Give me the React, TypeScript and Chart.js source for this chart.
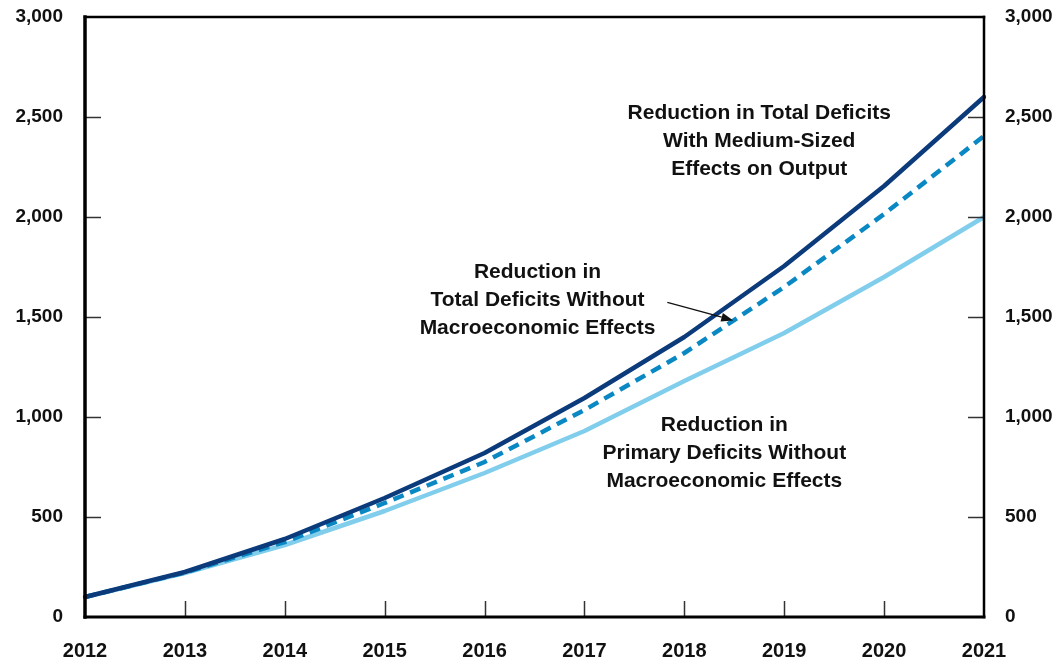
import { useEffect, useRef } from 'react';
import { Chart, registerables } from 'chart.js';

Chart.register(...registerables);

const years = ['2012', '2013', '2014', '2015', '2016', '2017', '2018', '2019', '2020', '2021'];
const totalWithMediumEffects = [100, 225, 390, 595, 820, 1095, 1400, 1755, 2155, 2600];
const totalWithoutMacro = [100, 222, 375, 570, 775, 1035, 1320, 1650, 2015, 2405];
const primaryWithoutMacro = [100, 220, 360, 530, 720, 930, 1180, 1420, 1700, 2000];
const yMin = 0;
const yMax = 3000;
const yStep = 500;

const annotationMedium = ['Reduction in Total Deficits', 'With Medium-Sized', 'Effects on Output'];
const annotationTotal = ['Reduction in', 'Total Deficits Without', 'Macroeconomic Effects'];
const annotationPrimary = ['Reduction in', 'Primary Deficits Without', 'Macroeconomic Effects'];

// anchors in data coordinates (category index, value)
const labelAnchors = [
  { lines: annotationMedium, x: 6.75, y: 2518 },
  { lines: annotationTotal, x: 4.53, y: 1723 },
  { lines: annotationPrimary, x: 6.4, y: 958 },
];
const arrowFrom = { x: 5.83, y: 1573 };
const arrowTo = { x: 6.49, y: 1483 };

const fmt = (v: number) => v.toLocaleString('en-US');

const framePlugin = {
  id: 'framePlugin',
  afterDatasetsDraw(chart: any) {
    const { ctx, chartArea, scales } = chart;
    const { left, right, top, bottom } = chartArea;
    const line = (x1: number, y1: number, x2: number, y2: number) => {
      ctx.beginPath();
      ctx.moveTo(x1, y1);
      ctx.lineTo(x2, y2);
      ctx.stroke();
    };
    ctx.save();
    // inward tick marks
    ctx.strokeStyle = '#333';
    ctx.lineWidth = 1.5;
    scales.y.ticks.forEach((t: any) => {
      if (t.value === yMin || t.value === yMax) return;
      const yp = Math.round(scales.y.getPixelForValue(t.value)) + 0.5;
      line(left, yp, left + 16, yp);
      line(right - 16, yp, right, yp);
    });
    scales.x.ticks.forEach((_t: any, i: number) => {
      if (i === 0 || i === years.length - 1) return;
      const xp = Math.round(scales.x.getPixelForTick(i)) + 0.5;
      line(xp, bottom, xp, bottom - 16);
    });
    // frame
    ctx.strokeStyle = '#000';
    ctx.lineCap = 'square';
    ctx.lineWidth = 2.5;
    line(left, top, right, top);
    line(right, top, right, bottom);
    ctx.lineWidth = 3.5;
    line(left, top, left, bottom);
    ctx.lineWidth = 3;
    line(left, bottom, right, bottom);

    // annotations
    ctx.fillStyle = '#111';
    ctx.font = 'bold 21px "Liberation Sans", Arial, sans-serif';
    ctx.textAlign = 'center';
    ctx.textBaseline = 'middle';
    labelAnchors.forEach((a) => {
      const cx = scales.x.getPixelForValue(a.x);
      const cy = scales.y.getPixelForValue(a.y);
      a.lines.forEach((txt, i) => ctx.fillText(txt, cx, cy + i * 28));
    });

    // arrow
    const x1 = scales.x.getPixelForValue(arrowFrom.x);
    const y1 = scales.y.getPixelForValue(arrowFrom.y);
    const x2 = scales.x.getPixelForValue(arrowTo.x);
    const y2 = scales.y.getPixelForValue(arrowTo.y);
    const ang = Math.atan2(y2 - y1, x2 - x1);
    const head = 12;
    const hx = x2 - head * Math.cos(ang);
    const hy = y2 - head * Math.sin(ang);
    ctx.strokeStyle = '#111';
    ctx.lineWidth = 1.3;
    ctx.lineCap = 'butt';
    line(x1, y1, hx, hy);
    ctx.beginPath();
    ctx.moveTo(x2, y2);
    ctx.lineTo(hx + 4.5 * Math.sin(ang), hy - 4.5 * Math.cos(ang));
    ctx.lineTo(hx - 4.5 * Math.sin(ang), hy + 4.5 * Math.cos(ang));
    ctx.closePath();
    ctx.fill();
    ctx.restore();
  },
};

export default function App() {
  const ref = useRef<HTMLCanvasElement | null>(null);
  useEffect(() => {
    if (!ref.current) return;
    const tickFont = { family: '"Liberation Sans", Arial, sans-serif', size: 19, weight: 'bold' as const };
    const fitY = (w: number) => (s: any) => {
      s.width = w;
      s.paddingTop = 0;
      s.paddingBottom = 0;
    };
    const chart = new Chart(ref.current, {
      type: 'line',
      data: {
        labels: years,
        datasets: [
          {
            label: 'Reduction in Total Deficits With Medium-Sized Effects on Output',
            data: totalWithMediumEffects,
            borderColor: '#0c3b7c',
            borderWidth: 4.5,
            pointRadius: 0,
            tension: 0,
            borderJoinStyle: 'round',
            borderCapStyle: 'round',
          },
          {
            label: 'Reduction in Total Deficits Without Macroeconomic Effects',
            data: totalWithoutMacro,
            borderColor: '#0a88c4',
            borderWidth: 4.5,
            borderDash: [11, 7],
            pointRadius: 0,
            tension: 0,
          },
          {
            label: 'Reduction in Primary Deficits Without Macroeconomic Effects',
            data: primaryWithoutMacro,
            borderColor: '#80cdec',
            borderWidth: 4.5,
            pointRadius: 0,
            tension: 0,
            borderJoinStyle: 'round',
          },
        ],
      },
      options: {
        animation: false,
        responsive: true,
        maintainAspectRatio: false,
        layout: { padding: { top: 17, left: 0, right: 0, bottom: 0 } },
        plugins: { legend: { display: false }, tooltip: { enabled: false } },
        scales: {
          x: {
            type: 'category',
            offset: false,
            grid: { display: false, drawTicks: false },
            border: { display: false },
            ticks: { color: '#111', font: { ...tickFont, size: 20 }, padding: 22, maxRotation: 0, autoSkip: false },
            afterFit: (s: any) => {
              s.height = 46;
              s.paddingLeft = 0;
              s.paddingRight = 0;
            },
          },
          y: {
            position: 'left',
            min: yMin,
            max: yMax,
            grid: { display: false, drawTicks: false },
            border: { display: false },
            ticks: { stepSize: yStep, color: '#111', font: tickFont, padding: 22, callback: (v: any) => fmt(Number(v)) },
            afterFit: fitY(85),
          },
          y2: {
            position: 'right',
            min: yMin,
            max: yMax,
            grid: { display: false, drawTicks: false },
            border: { display: false },
            ticks: { stepSize: yStep, color: '#111', font: tickFont, padding: 21, callback: (v: any) => fmt(Number(v)) },
            afterFit: fitY(77),
          },
        },
      },
      plugins: [framePlugin],
    });
    return () => chart.destroy();
  }, []);
  return (
    <div style={{ position: 'fixed', left: 0, top: 0, width: 1061, height: 663, background: '#fff' }}>
      <canvas ref={ref} />
    </div>
  );
}
